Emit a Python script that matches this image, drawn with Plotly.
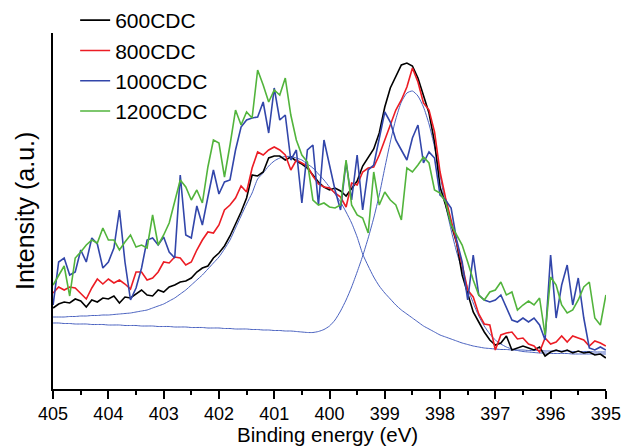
import plotly.graph_objects as go

# Binding energy grid (eV), 405.0 -> 395.0 in 0.1 eV steps
energy = [405.0, 404.9, 404.8, 404.7, 404.6, 404.5, 404.4, 404.3, 404.2, 404.1,
          404.0, 403.9, 403.8, 403.7, 403.6, 403.5, 403.4, 403.3, 403.2, 403.1,
          403.0, 402.9, 402.8, 402.7, 402.6, 402.5, 402.4, 402.3, 402.2, 402.1,
          402.0, 401.9, 401.8, 401.7, 401.6, 401.5, 401.4, 401.3, 401.2, 401.1,
          401.0, 400.9, 400.8, 400.7, 400.6, 400.5, 400.4, 400.3, 400.2, 400.1,
          400.0, 399.9, 399.8, 399.7, 399.6, 399.5, 399.4, 399.3, 399.2, 399.1,
          399.0, 398.9, 398.8, 398.7, 398.6, 398.5, 398.4, 398.3, 398.2, 398.1,
          398.0, 397.9, 397.8, 397.7, 397.6, 397.5, 397.4, 397.3, 397.2, 397.1,
          397.0, 396.9, 396.8, 396.7, 396.6, 396.5, 396.4, 396.3, 396.2, 396.1,
          396.0, 395.9, 395.8, 395.7, 395.6, 395.5, 395.4, 395.3, 395.2, 395.1,
          395.0]

cdc600 = [81, 85, 87, 86, 90, 88, 82, 89, 87, 91,
          90, 93, 86, 92, 91, 95, 99, 94, 93, 99,
          97, 102, 104, 107, 108, 111, 117, 121, 123, 131,
          136, 143, 153, 165, 177, 191, 214, 213, 217, 231,
          233, 233, 229, 232, 228, 225, 221, 214, 207, 202,
          199, 201, 198, 193, 200, 208, 223, 231, 240, 256,
          282, 301, 312, 324, 326, 323, 311, 294, 276, 247,
          202, 184, 164, 146, 114, 96, 77, 67, 57, 49,
          44, 46, 53, 39, 41, 43, 41, 39, 42, 33,
          37, 39, 37, 39, 36, 38, 36, 37, 34, 35,
          31]

cdc800 = [96, 102, 99, 102, 101, 95, 90, 101, 110, 105,
          110, 106, 109, 105, 100, 117, 117, 109, 111, 117,
          127, 126, 132, 131, 124, 127, 139, 149, 157, 156,
          164, 179, 184, 191, 203, 197, 221, 237, 234, 239,
          242, 239, 234, 219, 229, 226, 223, 213, 205, 202,
          201, 196, 192, 182, 206, 204, 217, 221, 222, 234,
          249, 264, 279, 289, 302, 321, 307, 286, 279, 257,
          217, 191, 169, 146, 124, 99, 92, 75, 65, 64,
          39, 54, 56, 57, 50, 51, 45, 43, 37, 51,
          45, 47, 53, 47, 53, 51, 49, 43, 48, 46,
          43]

cdc1000 = [84, 127, 131, 114, 117, 139, 127, 151, 145, 121,
           127, 141, 179, 127, 89, 101, 121, 149, 151, 144,
           152, 137, 131, 214, 154, 151, 183, 164, 192, 219,
           195, 207, 209, 239, 262, 269, 271, 272, 287, 256,
           301, 269, 274, 229, 239, 186, 239, 244, 184, 249,
           224, 199, 179, 227, 189, 234, 179, 219, 224, 249,
           277, 267, 249, 239, 229, 251, 264, 226, 237, 231,
           194, 189, 181, 149, 127, 89, 134, 94, 89, 87,
           89, 94, 81, 69, 67, 71, 67, 71, 64, 49,
           134, 71, 104, 124, 84, 111, 71, 41, 39, 42,
           39]

cdc1200 = [104, 114, 123, 93, 131, 137, 144, 149, 146, 161,
           149, 149, 139, 147, 154, 142, 144, 141, 174, 144,
           154, 166, 189, 209, 202, 189, 199, 186, 222, 249,
           246, 212, 244, 279, 264, 277, 271, 319, 304, 287,
           299, 294, 311, 274, 249, 234, 227, 189, 184, 186,
           182, 181, 184, 229, 184, 174, 171, 156, 217, 184,
           197, 189, 184, 169, 221, 217, 224, 232, 226, 199,
           196, 187, 164, 154, 144, 127, 109, 94, 89, 97,
           99, 107, 94, 97, 79, 84, 88, 84, 91, 54,
           112, 104, 84, 76, 79, 89, 102, 107, 71, 64,
           94]

fit_peak1 = [72, 72, 72, 72.5, 72.5, 73, 73, 73.5, 73.5, 74,
             74, 74.5, 75, 75.5, 76, 77, 78, 79, 81, 83,
             85, 88, 91, 95, 99, 104, 109, 114, 120, 126,
             132, 140, 149, 161, 173, 185, 196, 210, 216, 223,
             228, 231, 232.5, 232.5, 231, 229, 225, 221, 215, 209,
             202, 195, 187, 177, 166, 152, 135, 123, 112, 103,
             96, 90, 84, 79, 75, 71, 67, 63, 60, 57,
             54, 52, 50, 48, 46, 44.5, 43, 42, 41, 40.5,
             40, 39.5, 39.5, 39, 39, 39, 38.5, 38.5, 38.5, 38,
             38, 38, 38, 38, 37.5, 37.5, 37.5, 37.5, 37, 37,
             37]

fit_peak2 = [66, 66, 65.5, 65.5, 65, 65, 65, 64.5, 64.5, 64.5,
             64, 64, 64, 63.5, 63.5, 63.5, 63, 63, 63, 62.5,
             62.5, 62.5, 62, 62, 62, 61.5, 61.5, 61.5, 61, 61,
             61, 60.5, 60.5, 60, 60, 60, 59.5, 59.5, 59, 59,
             58.5, 58.5, 58, 58, 57.5, 57, 56.5, 56.5, 57.5, 59.5,
             63, 69, 78, 89, 102, 117, 133, 151, 171, 194,
             221, 247, 270, 287, 296, 298, 293, 282, 265, 242,
             214, 184, 159, 137, 119, 101, 86, 73, 63, 55,
             49, 45, 42, 40, 38.5, 37.5, 37, 36.5, 36, 36,
             35.5, 35.5, 35.5, 35.5, 35, 35, 35, 35, 35, 35,
             35]

x_ticks = [405, 404, 403, 402, 401, 400, 399, 398, 397, 396, 395]
x_title = "Binding energy (eV)"
y_title = "Intensity (a.u.)"

FONT = "Liberation Sans, Arial, Helvetica, sans-serif"
FIT_COLOR = "#4a62c0"

fig = go.Figure()

for fit in (fit_peak1, fit_peak2):
    fig.add_trace(go.Scatter(x=energy, y=fit, mode="lines", showlegend=False,
                             hoverinfo="skip",
                             line=dict(color=FIT_COLOR, width=1, shape="spline",
                                       smoothing=0.6)))

series = [("600CDC", cdc600, "#000000"),
          ("800CDC", cdc800, "#ec1c24"),
          ("1000CDC", cdc1000, "#3246aa"),
          ("1200CDC", cdc1200, "#52b43c")]

for name, vals, col in series:
    fig.add_trace(go.Scatter(x=energy, y=vals, mode="lines", name=name,
                             line=dict(color=col, width=1.6)))

fig.update_layout(
    width=621, height=448,
    margin=dict(l=53, r=15, t=33, b=59, autoexpand=False),
    paper_bgcolor="white", plot_bgcolor="white",
    font=dict(family=FONT, color="black"),
    legend=dict(xref="container", yref="container",
                x=0.121, y=1.011, xanchor="left", yanchor="top",
                font=dict(size=21, family=FONT, color="black"),
                bgcolor="rgba(0,0,0,0)", borderwidth=0, tracegroupgap=0),
    xaxis=dict(range=[405.002, 394.998], tickvals=x_ticks,
               ticktext=[str(t) for t in x_ticks],
               ticks="outside", ticklen=8, tickwidth=1.5, tickcolor="black",
               ticklabelstandoff=0, automargin=False,
               minor=dict(dtick=0.5, ticks="outside", ticklen=4, tickwidth=1.5,
                          tickcolor="black"),
               showline=True, linewidth=1.5, linecolor="black",
               showgrid=False, zeroline=False,
               tickfont=dict(size=18, family=FONT, color="black")),
    yaxis=dict(range=[0, 356], showticklabels=False, ticks="",
               showline=True, linewidth=1.5, linecolor="black",
               showgrid=False, zeroline=False, automargin=False),
    annotations=[
        dict(text=x_title, xref="paper", yref="paper", x=0.4955, y=-0.1278,
             xanchor="center", yanchor="middle", showarrow=False,
             font=dict(size=20.5, family=FONT, color="black")),
        dict(text=y_title, xref="paper", yref="paper", x=-0.0506, y=0.5,
             xanchor="center", yanchor="middle", showarrow=False, textangle=-90,
             font=dict(size=25, family=FONT, color="black")),
    ],
)

fig.write_html("out.html")
